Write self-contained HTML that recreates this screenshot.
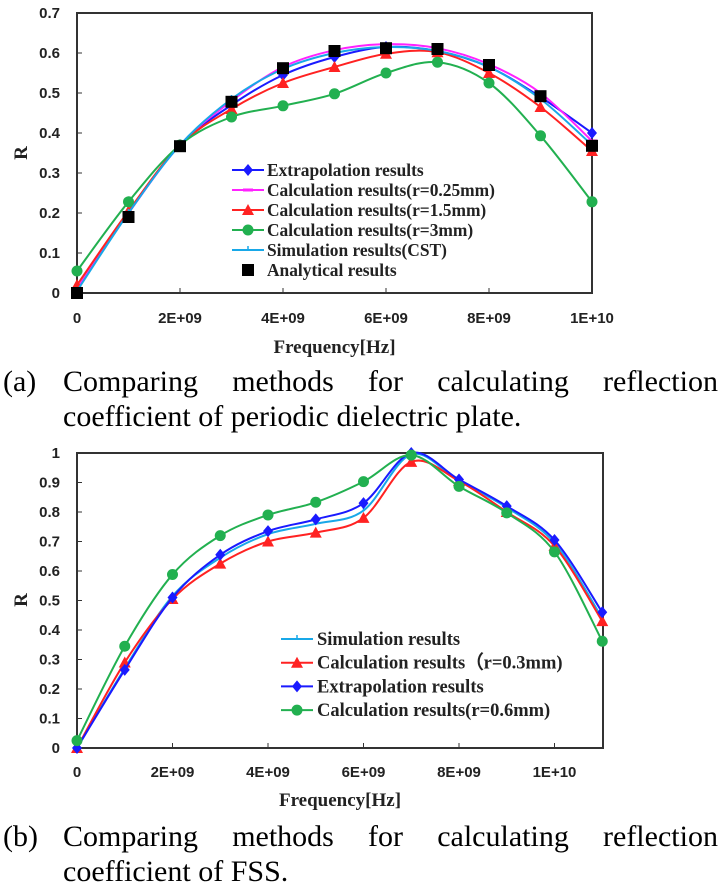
<!DOCTYPE html>
<html><head><meta charset="utf-8">
<style>
html,body{margin:0;padding:0;background:#fff;width:727px;height:893px;overflow:hidden}
svg{position:absolute;left:0;top:0}
.cap{position:absolute;font-family:"Liberation Serif",serif;font-size:30px;line-height:35px;color:#000;left:0;width:727px}
.l1{position:absolute;left:63px;width:655px;display:flex;justify-content:space-between;top:0}
.lab{position:absolute;left:3px;top:0}
.l2{position:absolute;left:63px;top:35px;white-space:nowrap}
</style></head><body>
<svg id="s" width="727" height="893" xmlns="http://www.w3.org/2000/svg"></svg>
<div class="cap" style="top:364px;">
<span class="lab">(a)</span>
<div class="l1"><span>Comparing</span><span>methods</span><span>for</span><span>calculating</span><span>reflection</span></div>
<div class="l2">coefficient of periodic dielectric plate.</div>
</div>
<div class="cap" style="top:819px;">
<span class="lab">(b)</span>
<div class="l1"><span>Comparing</span><span>methods</span><span>for</span><span>calculating</span><span>reflection</span></div>
<div class="l2">coefficient of FSS.</div>
</div>
<script>
const svg=document.getElementById('s');let h='';
function path(pts){let d='M'+pts[0][0]+','+pts[0][1];for(let i=0;i<pts.length-1;i++){const p0=pts[Math.max(0,i-1)],p1=pts[i],p2=pts[i+1],p3=pts[Math.min(pts.length-1,i+2)];const t=1/6;d+=' C'+(p1[0]+(p2[0]-p0[0])*t)+','+(p1[1]+(p2[1]-p0[1])*t)+' '+(p2[0]-(p3[0]-p1[0])*t)+','+(p2[1]-(p3[1]-p1[1])*t)+' '+p2[0]+','+p2[1];}return d;}
function mk(type,x,y,c){if(type=='d')return `<polygon points="${x},${y-6} ${x+5},${y} ${x},${y+6} ${x-5},${y}" fill="${c}"/>`;if(type=='t')return `<polygon points="${x},${y-6} ${x+6},${y+5} ${x-6},${y+5}" fill="${c}"/>`;if(type=='c')return `<circle cx="${x}" cy="${y}" r="5.5" fill="${c}"/>`;if(type=='s')return `<rect x="${x-6}" y="${y-6}" width="12" height="12" fill="${c}"/>`;if(type=='m')return `<rect x="${x-5}" y="${y-1.5}" width="10" height="3" fill="${c}"/>`;if(type=='p')return `<path d="M${x},${y-4}V${y+1}" stroke="${c}" stroke-width="1.5"/>`;return '';}
function chart(o){const X=v=>o.x0+v*o.dx,Y=v=>o.y0-v*o.dy*10;
 h+=`<rect x="${o.x0}" y="${o.top}" width="${o.right-o.x0}" height="${o.y0-o.top}" fill="none" stroke="#333" stroke-width="2"/>`;
 for(let i=0;i<=o.ymax*10+1e-6;i++){const y=o.y0-i*o.dy;h+=`<line x1="${o.x0}" y1="${y}" x2="${o.x0+5}" y2="${y}" stroke="#333"/>`;let l=(i/10).toFixed(1);if(i==0)l='0';if(i==10)l='1';h+=`<text x="${o.x0-17}" y="${y+5}" text-anchor="end" font-family="Liberation Sans,sans-serif" font-weight="bold" font-size="15" fill="#222">${l}</text>`;}
 const xl=['0','2E+09','4E+09','6E+09','8E+09','1E+10'];
 xl.forEach((l,i)=>{const x=X(i*2);h+=`<line x1="${x}" y1="${o.y0}" x2="${x}" y2="${o.y0-5}" stroke="#333"/><text x="${x}" y="${o.xly}" text-anchor="middle" font-family="Liberation Sans,sans-serif" font-weight="bold" font-size="15" fill="#222">${l}</text>`;});
 h+=`<text x="${(o.x0+o.right)/2}" y="${o.fy}" text-anchor="middle" font-family="Liberation Serif,serif" font-weight="bold" font-size="19" fill="#222">Frequency[Hz]</text>`;
 h+=`<text transform="translate(27,${o.ry}) rotate(-90)" text-anchor="middle" font-family="Liberation Serif,serif" font-weight="bold" font-size="19" fill="#222">R</text>`;
 o.series.forEach(s=>{const pts=s.v.map((v,i)=>[X(i),Y(v)]);if(s.line!==false)h+=`<path d="${path(pts)}" fill="none" stroke="${s.c}" stroke-width="2"/>`;pts.forEach(p=>h+=mk(s.m,p[0],p[1],s.c));});
 o.series.forEach((s,i)=>{const y=o.ly+i*o.lsp;if(s.line!==false)h+=`<line x1="${o.lx}" y1="${y}" x2="${o.lx+32}" y2="${y}" stroke="${s.c}" stroke-width="2"/>`;h+=mk(s.m,o.lx+16,y,s.c);h+=`<text x="${o.lx+o.to}" y="${y+6}" font-family="Liberation Serif,serif" font-weight="bold" font-size="${o.lf}" fill="#222">${s.n}</text>`;});
}
chart({x0:77,right:592,top:13,y0:293,dx:51.5,dy:40,ymax:0.7,xly:323,fy:353,ry:153,lx:232,to:35,lf:17.4,ly:170,lsp:20,series:[
{n:'Extrapolation results',c:'#1a1aff',m:'d',v:[0.01,0.2,0.37,0.47,0.545,0.59,0.615,0.605,0.565,0.49,0.40]},
{n:'Calculation results(r=0.25mm)',c:'#ff22ff',m:'m',v:[0.01,0.2,0.37,0.48,0.565,0.607,0.622,0.612,0.572,0.5,0.38]},
{n:'Calculation results(r=1.5mm)',c:'#ff2222',m:'t',v:[0.02,0.205,0.37,0.46,0.525,0.565,0.598,0.602,0.55,0.465,0.355]},
{n:'Calculation results(r=3mm)',c:'#22b050',m:'c',v:[0.055,0.228,0.37,0.44,0.468,0.498,0.55,0.577,0.525,0.393,0.228]},
{n:'Simulation results(CST)',c:'#18a8e8',m:'p',v:[0.005,0.2,0.37,0.485,0.56,0.6,0.615,0.605,0.565,0.485,0.37]},
{n:'Analytical results',c:'#000',m:'s',line:false,v:[0,0.19,0.367,0.478,0.562,0.605,0.612,0.61,0.57,0.492,0.368]}]});
chart({x0:77,right:603,top:453,y0:748,dx:47.75,dy:29.5,ymax:1,xly:777,fy:806,ry:600,lx:281,to:36,lf:18.5,ly:639,lsp:23.7,series:[
{n:'Simulation results',c:'#18a8e8',m:'p',v:[0,0.27,0.515,0.645,0.725,0.76,0.805,0.995,0.905,0.815,0.695,0.44]},
{n:'Calculation results（r=0.3mm)',c:'#ff2222',m:'t',v:[0,0.29,0.505,0.625,0.70,0.73,0.78,0.97,0.905,0.80,0.685,0.43]},
{n:'Extrapolation results',c:'#1a1aff',m:'d',v:[0,0.265,0.51,0.655,0.735,0.775,0.83,1.0,0.91,0.82,0.705,0.46]},
{n:'Calculation results(r=0.6mm)',c:'#22b050',m:'c',v:[0.025,0.345,0.588,0.72,0.79,0.833,0.903,0.993,0.887,0.797,0.665,0.362]}]});
svg.innerHTML=h;
</script>
</body></html>
